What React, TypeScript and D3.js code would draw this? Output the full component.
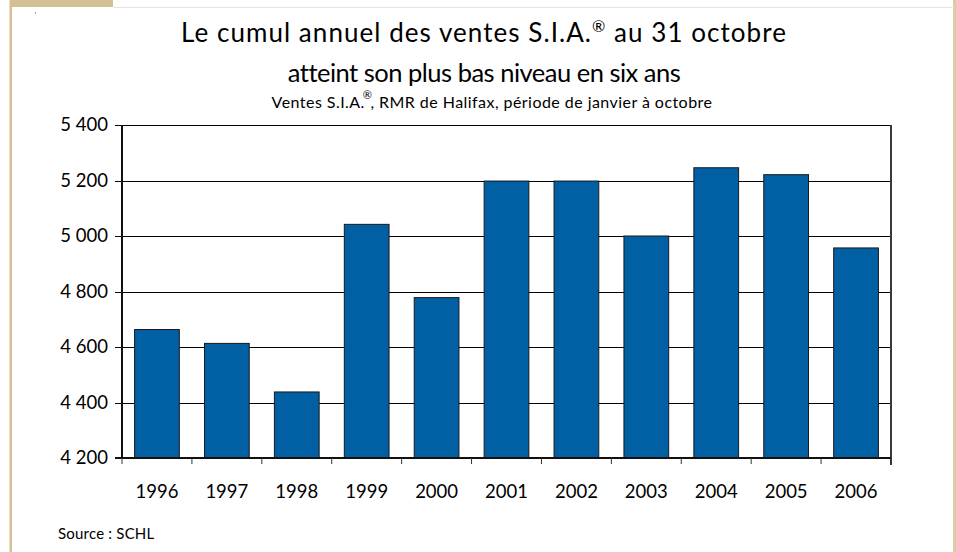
import React, { useEffect, useRef } from "react";
import * as d3 from "d3";

const years = ["1996", "1997", "1998", "1999", "2000", "2001", "2002", "2003", "2004", "2005", "2006"];
const sales = [4663, 4613, 4438, 5042, 4778, 5198, 5198, 5000, 5246, 5221, 4957];
const yTicks = [4200, 4400, 4600, 4800, 5000, 5200, 5400];

const W = 956,
  H = 552;

const App = () => {
  const svgRef = useRef<SVGSVGElement>(null);

  useEffect(() => {
    const svg = d3.select(svgRef.current);
    svg.selectAll("*").remove();

    const font = "'Lato', 'Open Sans', sans-serif";
    const left = 122,
      right = 891,
      top = 125,
      bottom = 458;

    // frame
    svg.append("rect").attr("x", 9.5).attr("y", 0).attr("width", 2.5).attr("height", H).attr("fill", "#d4c094");
    svg.append("rect").attr("x", 953).attr("y", 0).attr("width", 3).attr("height", H).attr("fill", "#d9cba5");
    svg.append("rect").attr("x", 10).attr("y", 0).attr("width", 103).attr("height", 7).attr("fill", "#d4c094");
    svg.append("line").attr("x1", 113).attr("x2", 954).attr("y1", 7.5).attr("y2", 7.5).attr("stroke", "#ece4d2");
    svg.append("rect").attr("x", 35).attr("y", 12.5).attr("width", 1).attr("height", 1).attr("fill", "#555");

    const x = d3.scaleBand().domain(years).range([left, right]).paddingInner(0.36).paddingOuter(0.18);
    const y = d3.scaleLinear().domain([4200, 5400]).range([bottom, top]);

    // gridlines
    svg
      .selectAll("line.grid")
      .data(yTicks.slice(1))
      .join("line")
      .attr("x1", left - 7)
      .attr("x2", right)
      .attr("y1", (d) => Math.round(y(d)) + 0.5)
      .attr("y2", (d) => Math.round(y(d)) + 0.5)
      .attr("stroke", "#000")
      .attr("stroke-width", 1);

    // bars
    svg
      .selectAll("rect.bar")
      .data(sales)
      .join("rect")
      .attr("x", (d, i) => x(years[i])!)
      .attr("y", (d) => y(d))
      .attr("width", x.bandwidth())
      .attr("height", (d) => bottom - y(d))
      .attr("fill", "#0060a3")
      .attr("stroke", "#1a1a1a")
      .attr("stroke-width", 1);

    // axes lines
    svg.append("line").attr("x1", left).attr("x2", left).attr("y1", top).attr("y2", bottom).attr("stroke", "#111").attr("stroke-width", 2);
    svg.append("line").attr("x1", right).attr("x2", right).attr("y1", top).attr("y2", bottom + 7).attr("stroke", "#3a3a3a").attr("stroke-width", 2);
    svg.append("line").attr("x1", left - 7).attr("x2", right).attr("y1", bottom).attr("y2", bottom).attr("stroke", "#111").attr("stroke-width", 2);

    // x ticks at band edges
    const step = (right - left) / years.length;
    svg
      .selectAll("line.xtick")
      .data(d3.range(years.length + 1))
      .join("line")
      .attr("x1", (i) => left + i * step)
      .attr("x2", (i) => left + i * step)
      .attr("y1", bottom)
      .attr("y2", bottom + 6)
      .attr("stroke", "#333")
      .attr("stroke-width", 1);

    // y labels
    svg
      .selectAll("text.ylab")
      .data(yTicks)
      .join("text")
      .attr("x", 108)
      .attr("y", (d) => y(d))
      .attr("dy", "0.35em")
      .attr("text-anchor", "end")
      .attr("font-family", font)
      .attr("font-size", 18.5)
      .attr("fill", "#000")
      .text((d) => d3.format(",")(d).replace(",", " "));

    // x labels
    svg
      .selectAll("text.xlab")
      .data(years)
      .join("text")
      .attr("x", (d) => x(d)! + x.bandwidth() / 2)
      .attr("y", 492)
      .attr("dy", "0.35em")
      .attr("text-anchor", "middle")
      .attr("font-family", font)
      .attr("font-size", 18.5)
      .attr("fill", "#000")
      .text((d) => d);

    // titles
    const t1 = svg
      .append("text")
      .attr("x", 484)
      .attr("y", 42)
      .attr("text-anchor", "middle")
      .attr("font-family", font)
      .attr("font-size", 26)
      .attr("letter-spacing", 1.05)
      .attr("fill", "#000");
    t1.append("tspan").text("Le cumul annuel des ventes S.I.A.");
    t1.append("tspan").attr("font-size", 16).attr("dy", -10).text("®");
    t1.append("tspan").attr("dy", 10).text(" au 31 octobre");

    svg
      .append("text")
      .attr("x", 484)
      .attr("y", 82)
      .attr("text-anchor", "middle")
      .attr("font-family", font)
      .attr("font-size", 25.5)
      .attr("letter-spacing", -0.5)
      .attr("fill", "#000")
      .text("atteint son plus bas niveau en six ans");

    const t3 = svg
      .append("text")
      .attr("x", 492)
      .attr("y", 108)
      .attr("text-anchor", "middle")
      .attr("font-family", font)
      .attr("font-size", 16)
      .attr("letter-spacing", 0.45)
      .attr("fill", "#000");
    t3.append("tspan").text("Ventes S.I.A.");
    t3.append("tspan").attr("font-size", 11).attr("dx", -2).attr("dy", -9).text("®");
    t3.append("tspan").attr("dx", -2).attr("dy", 9).text(", RMR de Halifax, période de janvier à octobre");

    svg
      .append("text")
      .attr("x", 58)
      .attr("y", 539)
      .attr("font-family", font)
      .attr("font-size", 15)
      .attr("letter-spacing", 0.2)
      .attr("fill", "#000")
      .text("Source : SCHL");
  }, []);

  return (
    <svg
      ref={svgRef}
      width={W}
      height={H}
      style={{ position: "absolute", left: 0, top: 0, background: "#fff" }}
    />
  );
};

export default App;
